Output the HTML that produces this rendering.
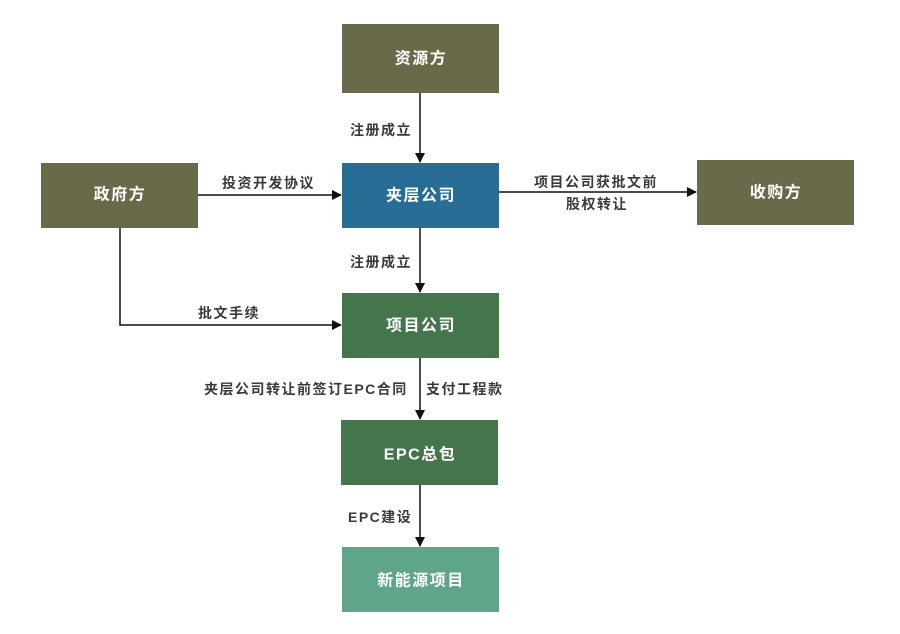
<!DOCTYPE html>
<html><head><meta charset="utf-8"><style>
html,body{margin:0;padding:0;background:#fff;}
svg{display:block;}
text{font-family:"Liberation Sans","Noto Sans CJK SC",sans-serif;}
.b{fill:#fff;font-size:16px;font-weight:bold;letter-spacing:1.5px;text-anchor:middle;dominant-baseline:central;}
.l{fill:#3a3a3a;font-size:14px;font-weight:bold;letter-spacing:1.5px;dominant-baseline:central;}
</style></head><body>
<svg width="900" height="634" viewBox="0 0 900 634">
<defs><marker id="a" markerWidth="10" markerHeight="10" refX="9" refY="5" orient="auto" markerUnits="userSpaceOnUse"><path d="M0,0 L10,5 L0,10 z" fill="#111"/></marker></defs>
<rect x="342" y="24" width="157" height="69" fill="#686a4a"/>
<rect x="41" y="163" width="157" height="65" fill="#686a4a"/>
<rect x="342" y="163" width="157" height="65" fill="#276d96"/>
<rect x="697" y="160" width="157" height="65" fill="#686a4a"/>
<rect x="342" y="293" width="157" height="65" fill="#45754b"/>
<rect x="341" y="420" width="157" height="65" fill="#45754b"/>
<rect x="342" y="547" width="157" height="65" fill="#5ea58a"/>
<text class="b" x="421" y="59">资源方</text>
<text class="b" x="120" y="195">政府方</text>
<text class="b" x="421" y="196">夹层公司</text>
<text class="b" x="776" y="193">收购方</text>
<text class="b" x="421" y="326">项目公司</text>
<text class="b" x="420" y="455">EPC总包</text>
<text class="b" x="421" y="581">新能源项目</text>
<g stroke="#111" stroke-width="1.5" fill="none">
<line x1="420" y1="93" x2="420" y2="162" marker-end="url(#a)"/>
<line x1="198" y1="195" x2="341" y2="195" marker-end="url(#a)"/>
<line x1="499" y1="192" x2="696" y2="192" marker-end="url(#a)"/>
<line x1="420" y1="228" x2="420" y2="292" marker-end="url(#a)"/>
<polyline points="120,228 120,325 341,325" marker-end="url(#a)"/>
<line x1="420" y1="358" x2="420" y2="419" marker-end="url(#a)"/>
<line x1="420" y1="485" x2="420" y2="546" marker-end="url(#a)"/>
</g>
<text class="l" x="350" y="130">注册成立</text>
<text class="l" x="222" y="183">投资开发协议</text>
<text class="l" x="534" y="182">项目公司获批文前</text>
<text class="l" x="566" y="204">股权转让</text>
<text class="l" x="350" y="262">注册成立</text>
<text class="l" x="198" y="313">批文手续</text>
<text class="l" x="204" y="389">夹层公司转让前签订EPC合同</text>
<text class="l" x="426" y="389">支付工程款</text>
<text class="l" x="348" y="517">EPC建设</text>
</svg>
</body></html>
